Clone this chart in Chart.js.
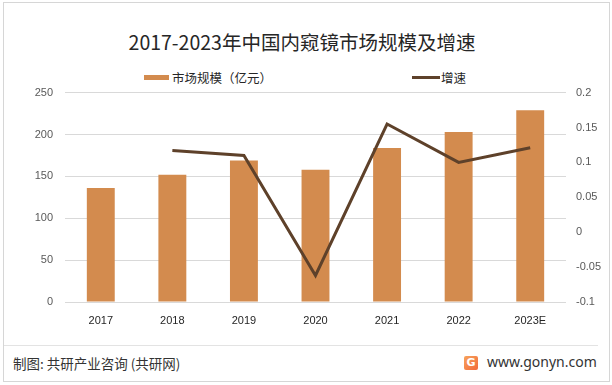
<!DOCTYPE html>
<html lang="zh">
<head>
<meta charset="UTF-8">
<title>2017-2023年中国内窥镜市场规模及增速</title>
<script src="https://cdn.jsdelivr.net/npm/chart.js"></script>
<style>
  body { margin: 0; background: #fff; font-family: "Noto Sans CJK SC", "Noto Sans", sans-serif; }
  #box { position: relative; width: 612px; height: 385px; overflow: hidden; }
  #frame { position: absolute; left: 3px; top: 2px; width: 605px; height: 378px; border: 1px solid #d6d6d6; }
  #title { position: absolute; left: 0; width: 604px; top: 29px; text-align: center; font-size: 19.5px; color: #262626; line-height: 26px; }
  .leg { position: absolute; top: 69px; font-size: 12.5px; color: #262626; line-height: 18px; }
  .sw { position: absolute; }
  #chartWrap { position: absolute; left: 0; top: 74px; width: 612px; height: 261px; }
  #sep { position: absolute; left: 4px; top: 345px; width: 594px; height: 1px; background: #e3e3e3; }
  #src { position: absolute; left: 13px; top: 354px; font-size: 13.5px; color: #333; line-height: 18px; }
  #logo { position: absolute; left: 464px; top: 356px; width: 14px; height: 14px; border-radius: 2px;
          background: linear-gradient(135deg, #f7a35c, #f2693a); color: #fff; font: bold 11px "DejaVu Sans", sans-serif; text-align: center; line-height: 14px; }
  #site { position: absolute; left: 487px; top: 353px; font-size: 14px; color: #333; line-height: 18px; font-family: "Noto Sans", sans-serif; }
</style>
</head>
<body>
<div id="box">
  <div id="frame"></div>
  <div id="title">2017-2023年中国内窥镜市场规模及增速</div>
  <div class="sw" style="left:144px; top:75px; width:25px; height:5px; background:#d38b4e;"></div>
  <div class="leg" style="left:172px;">市场规模（亿元）</div>
  <div class="sw" style="left:412px; top:76px; width:28px; height:3px; background:#5e412a;"></div>
  <div class="leg" style="left:441px;">增速</div>
  <div id="chartWrap"><canvas id="c" width="612" height="261"></canvas></div>
  <div id="sep"></div>
  <div id="src">制图: 共研产业咨询 (共研网)</div>
  <div id="logo">G</div>
  <div id="site">www.gonyn.com</div>
</div>
<script>
  const years = ['2017', '2018', '2019', '2020', '2021', '2022', '2023E'];
  const marketSize = [136, 152, 169, 158, 184, 203, 229];
  const growth = [null, 0.117, 0.110, -0.062, 0.155, 0.100, 0.121];

  const tickFont = { family: 'Liberation Sans, Arial, sans-serif', size: 11 };
  const tickColor = '#595959';

  new Chart(document.getElementById('c'), {
    data: {
      labels: years,
      datasets: [
        {
          type: 'line',
          label: '增速',
          data: growth,
          yAxisID: 'y1',
          borderColor: '#5e412a',
          borderWidth: 3,
          pointRadius: 0,
          tension: 0,
          order: 0
        },
        {
          type: 'bar',
          label: '市场规模（亿元）',
          data: marketSize,
          yAxisID: 'y',
          backgroundColor: '#d38b4e',
          barPercentage: 0.39,
          categoryPercentage: 1,
          order: 1
        }
      ]
    },
    options: {
      responsive: false,
      animation: false,
      layout: { padding: 0 },
      plugins: { legend: { display: false }, tooltip: { enabled: false } },
      scales: {
        x: {
          grid: { display: false, drawTicks: false },
          border: { display: false },
          ticks: { color: '#262626', font: tickFont, padding: 12, maxRotation: 0 },
          afterFit: s => { s.height = 33; }
        },
        y: {
          position: 'left',
          min: 0, max: 250,
          ticks: { stepSize: 50, color: tickColor, font: tickFont, padding: 12 },
          grid: { color: '#d9d9d9', drawTicks: false },
          border: { display: false },
          afterFit: s => { s.width = 65; }
        },
        y1: {
          position: 'right',
          min: -0.1, max: 0.2,
          ticks: { stepSize: 0.05, color: tickColor, font: tickFont, padding: 10,
                   callback: v => Math.round(v * 100) / 100 },
          grid: { display: false, drawTicks: false },
          border: { display: false },
          afterFit: s => { s.width = 46; }
        }
      }
    }
  });
</script>
</body>
</html>
